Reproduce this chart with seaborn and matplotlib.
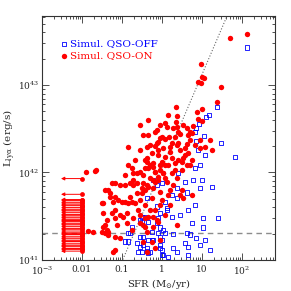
import numpy as np
import pandas as pd
import matplotlib
matplotlib.use("Agg")
import matplotlib.pyplot as plt
import seaborn as sns
from matplotlib.ticker import LogLocator, FixedLocator, FixedFormatter, NullFormatter

sns.set_style("ticks")
plt.rcParams['font.family'] = ['DejaVu Serif']
plt.rcParams['mathtext.fontset'] = 'dejavuserif'

# QSO-ON (red filled) : log10 SFR, log10 L
on_lsfr = [1.70, 2.13, 0.98, 0.90, 0.98, 1.00, 1.05, 1.48, 1.38, 0.35, 0.38, 0.88, 1.00, 0.90, 1.00,
           0.35, 0.08, 0.13, -0.13, -0.18, -0.35, 0.00, -0.05, 0.08, 0.18, 0.28, 0.38, 0.40, 0.33, 0.45,
           0.63, 0.70, 0.75, 0.65, 0.78, 1.20, 0.25, -0.10, -0.13, 0.63, 0.40, -0.48,
           -1.68, -1.25, -1.18, -1.05, -0.93, -0.80, -0.73, -0.73, -0.63, -0.55, -0.48, -0.43, -0.38, -0.30,
           -0.23, -0.18, -0.05, 0.03, 0.08, 0.00, -1.35, -1.30, -1.48, -1.18, -1.10, -1.00, -0.93, -0.85,
           -0.75, -0.68, -0.55, -0.80, -0.63, -0.50, -0.43, -0.35, -0.48, -0.23, -0.10, -1.25, -1.18, -1.05,
           -0.98, -0.88, -0.88, -0.73, -0.60, -0.55, -0.75, -1.05, -1.18, -1.38, -1.43, -1.35, -1.43, -1.73,
           -1.18, -0.48, -0.38, -0.23, -0.23, -0.43, -0.13,
           -0.38, -0.18, 0.03, 0.20, 0.38, 0.45, 0.58, 1.08, 1.25, -0.25, -0.10, 0.08, 0.25, 0.40, -0.38,
           -0.23, -0.05, 0.15, 0.33, 0.50, -0.35, -0.18, 0.03, 0.25, 0.38, -0.30, -0.10, 0.13, -0.38, -0.23,
           -0.05, 0.15, -0.25, 0.00, -0.43, -0.18, -0.35, -0.10, 0.38, -0.43, -0.25, -0.05, -0.38, -0.18,
           -1.90, -1.43, -1.30, -1.50, -1.23, -1.48, -1.18, -1.38, -1.48, -1.13, -1.85, -1.50, -1.35, -1.23,
           -0.85, -0.75, -0.63, -0.73, -0.50, -0.55, -0.48, -1.65,
           0.83, 0.95, 0.65, 0.53, 0.75, 0.50, 0.63, 0.28, 0.50, 0.08, 0.53, 0.75,
           -0.30, -0.10, 0.20, 0.58, 0.70, 0.33, 0.08, -0.18, -0.43, -0.55, -0.68, -0.85, -0.93, 0.20,
           0.45, -0.05, -0.30, 0.20, 0.70, 0.95, 0.53, 0.15, -0.05, -0.55, -0.35]
on_llya = [43.54, 43.58, 43.24, 43.03, 43.02, 43.09, 43.08, 42.98, 42.81, 42.75, 42.65, 42.69, 42.73, 42.61, 42.59,
           42.58, 42.57, 42.52, 42.49, 42.46, 42.43, 42.41, 42.39, 42.38, 42.41, 42.51, 42.52, 42.46, 42.41, 42.44,
           42.51, 42.46, 42.45, 42.43, 42.53, 42.37, 42.34, 42.35, 42.34, 42.33, 42.34, 42.43,
           42.02, 41.88, 41.88, 41.86, 41.86, 41.88, 41.99, 41.91, 41.88, 42.01, 41.97, 42.05, 42.12, 42.09,
           42.06, 42.01, 42.03, 41.99, 42.09, 42.12, 41.80, 41.77, 41.65, 41.72, 41.69, 41.66, 41.66, 41.65,
           41.66, 41.65, 41.69, 41.72, 41.77, 41.77, 41.80, 41.83, 41.88, 41.91, 41.95, 41.54, 41.48, 41.51,
           41.49, 41.54, 41.42, 41.48, 41.57, 41.42, 41.34, 41.25, 41.26, 41.34, 41.40, 41.32, 41.31, 41.32,
           41.11, 41.21, 41.32, 41.38, 41.49, 41.48, 41.46,
           42.29, 42.30, 42.28, 42.29, 42.31, 42.26, 42.28, 42.29, 42.26, 42.22, 42.20, 42.18, 42.17, 42.14, 42.17,
           42.11, 42.09, 42.09, 42.11, 42.12, 42.05, 42.01, 41.99, 41.99, 41.94, 41.94, 41.91, 41.89, 41.86, 41.82,
           41.78, 41.74, 41.71, 41.69, 41.63, 41.57, 41.49, 41.43, 41.40, 41.38, 41.21, 41.23, 41.09, 41.14,
           42.01, 41.80, 41.72, 41.65, 41.66, 41.54, 41.57, 41.46, 41.38, 41.40, 41.33, 41.32, 41.29, 41.09,
           42.29, 42.05, 41.99, 41.86, 41.82, 41.51, 41.40, 42.03,
           42.31, 42.28, 42.22, 42.17, 42.14, 42.03, 42.09, 41.86, 41.80, 41.51, 41.71, 41.74,
           42.31, 42.26, 42.23, 42.20, 42.09, 42.03, 41.94, 41.89, 42.14, 42.26, 42.14, 42.09, 41.97, 41.80,
           41.74, 41.63, 41.57, 41.63, 42.37, 42.37, 42.54, 42.66, 42.54, 42.54, 42.60]

# QSO-OFF (blue open squares)
off_lsfr = [2.13, 1.38, 1.10, 1.18, 0.93, 0.85, 0.83, 1.05, 1.48, 0.85,
            -0.23, -0.13, 0.00, -0.38, -0.13, -0.05, 0.13, -0.50, -0.43, -0.55, -0.13, -0.05, 0.03, -0.80,
            -0.85, -0.48, -0.35, -0.23, 0.00, -0.55, -0.50, -0.38, -0.30, -0.05, 0.03, 0.15,
            0.90, 1.08, 0.83, 0.95, 1.83, 0.40, 0.58, 0.78, 1.00, 1.25, 0.95, 0.38, 0.63, 0.25, 0.38, 0.08,
            0.13, 0.65, 0.83, 0.45, 0.25, -0.10, 1.03, 1.40, 0.75, -0.35, 1.03, -0.25, -0.10, 0.08, 0.28,
            0.63, 0.70, -0.05, -0.25, 0.58, 0.65, -0.05, 0.00, 0.28, 0.38, -0.38, -0.35, 0.00, 0.65,
            -0.85, -0.93, -0.75, -0.55, -0.60, -0.63, -0.48, -0.50,
            0.95, 1.08, 1.20, 0.85]
off_llya = [43.43, 42.75, 42.63, 42.66, 42.55, 42.51, 42.46, 42.42, 42.34, 42.36,
            41.91, 41.86, 41.88, 41.71, 41.61, 41.54, 41.57, 41.43, 41.49, 41.46, 41.42, 41.37, 41.34, 41.31,
            41.21, 41.26, 41.23, 41.23, 41.23, 41.15, 41.09, 41.14, 41.09, 41.14, 41.06, 41.03,
            42.26, 42.20, 42.05, 42.09, 42.18, 41.99, 41.89, 41.91, 41.91, 41.83, 41.82, 41.82, 41.77, 41.74, 41.71, 41.66,
            41.59, 41.57, 41.63, 41.51, 41.49, 41.48, 41.48, 41.48, 41.42, 41.43, 41.37, 41.32, 41.31, 41.31, 41.30,
            41.31, 41.29, 41.26, 41.23, 41.19, 41.15, 41.17, 41.11, 41.14, 41.09, 41.10, 41.08, 41.06, 41.06,
            41.31, 41.21, 41.38, 41.26, 41.09, 41.19, 41.17, 41.49,
            41.17, 41.23, 41.11, 41.25]

# QSO-ON upper limits on SFR (at SFR = 0.01)
lim_sfr = 0.01
lim_tip = 0.003
lim_llya = [41.93, 41.75, 41.69, 41.68, 41.66, 41.65, 41.63, 41.62, 41.60, 41.58, 41.57, 41.56, 41.54,
            41.52, 41.51, 41.49, 41.48, 41.46, 41.45, 41.44, 41.42, 41.41, 41.40, 41.38, 41.36, 41.35,
            41.33, 41.31, 41.30, 41.29, 41.27, 41.25, 41.24, 41.22, 41.21, 41.19, 41.17, 41.16, 41.15,
            41.13, 41.12, 41.10]

thresh_llya = 41.31
rel_norm, rel_slope = 42.05, 1.07

on = pd.DataFrame({'sfr': 10 ** np.array(on_lsfr), 'L': 10 ** np.array(on_llya)})
off = pd.DataFrame({'sfr': 10 ** np.array(off_lsfr), 'L': 10 ** np.array(off_llya)})

fig = plt.figure(figsize=(2.91, 2.91), dpi=100)
ax = fig.add_axes([0.144, 0.107, 0.801, 0.838])
ax.set_xscale('log')
ax.set_yscale('log')
xmin, xmax = 1e-3, 10 ** 2.825
ymin, ymax = 1e41, 10 ** 43.79
ax.set_xlim(xmin, xmax)
ax.set_ylim(ymin, ymax)

# reference lines
ax.axhline(10 ** thresh_llya, color='0.55', ls=(0, (4, 3)), lw=1.0, zorder=1)
xs = np.array([xmin, xmax])
ax.plot(xs, 10 ** (rel_norm + rel_slope * np.log10(xs)), color='0.4', ls=':', lw=0.8, zorder=1)

# upper limits
for l in lim_llya:
    ax.annotate('', xy=(lim_tip, 10 ** l), xytext=(lim_sfr, 10 ** l),
                arrowprops=dict(arrowstyle='-|>', color='red', lw=0.7, mutation_scale=5,
                                shrinkA=0, shrinkB=0))
ax.scatter([lim_sfr] * len(lim_llya), 10 ** np.array(lim_llya), s=12, color='red', lw=0, zorder=3)

sns.scatterplot(data=off, x='sfr', y='L', marker='s', s=9, facecolor='none', edgecolor='blue',
                linewidth=0.6, ax=ax, label='Simul. QSO-OFF', zorder=2)
sns.scatterplot(data=on, x='sfr', y='L', marker='o', s=15, color='red', linewidth=0,
                ax=ax, label='Simul. QSO-ON', zorder=3)

leg = ax.legend(loc='upper left', bbox_to_anchor=(0.04, 0.935), frameon=False, fontsize=7.5,
                handletextpad=0.1, handlelength=1.0, labelspacing=0.25, borderpad=0.2)
for t, c in zip(leg.get_texts(), ['blue', 'red']):
    t.set_color(c)

ax.xaxis.set_major_locator(FixedLocator([1e-3, 1e-2, 1e-1, 1, 10, 100]))
ax.xaxis.set_major_formatter(FixedFormatter([r'$10^{-3}$', '0.01', '0.1', '1', '10', r'$10^{2}$']))
ax.xaxis.set_minor_locator(LogLocator(base=10, subs=np.arange(2, 10), numticks=20))
ax.xaxis.set_minor_formatter(NullFormatter())
ax.yaxis.set_major_locator(FixedLocator([1e41, 1e42, 1e43]))
ax.yaxis.set_major_formatter(FixedFormatter([r'$10^{41}$', r'$10^{42}$', r'$10^{43}$']))
ax.yaxis.set_minor_locator(LogLocator(base=10, subs=np.arange(2, 10), numticks=20))
ax.yaxis.set_minor_formatter(NullFormatter())

ax.tick_params(which='both', direction='in', top=True, right=True, width=0.6, color='0.2')
ax.tick_params(which='major', length=5)
ax.tick_params(which='minor', length=2.5)
ax.tick_params(axis='x', which='major', pad=3.5, labelsize=6.5)
ax.tick_params(axis='y', which='major', pad=2, labelsize=6.5)
for s in ax.spines.values():
    s.set_linewidth(0.8)
    s.set_color('0.2')

ax.set_xlabel(r'SFR (M$_{\odot}$/yr)', fontsize=7.2, labelpad=0)
ax.set_ylabel(r'L$_{\rm ly\alpha}$ (erg/s)', fontsize=7.5, labelpad=0)

fig.savefig('out.png', dpi=100)
